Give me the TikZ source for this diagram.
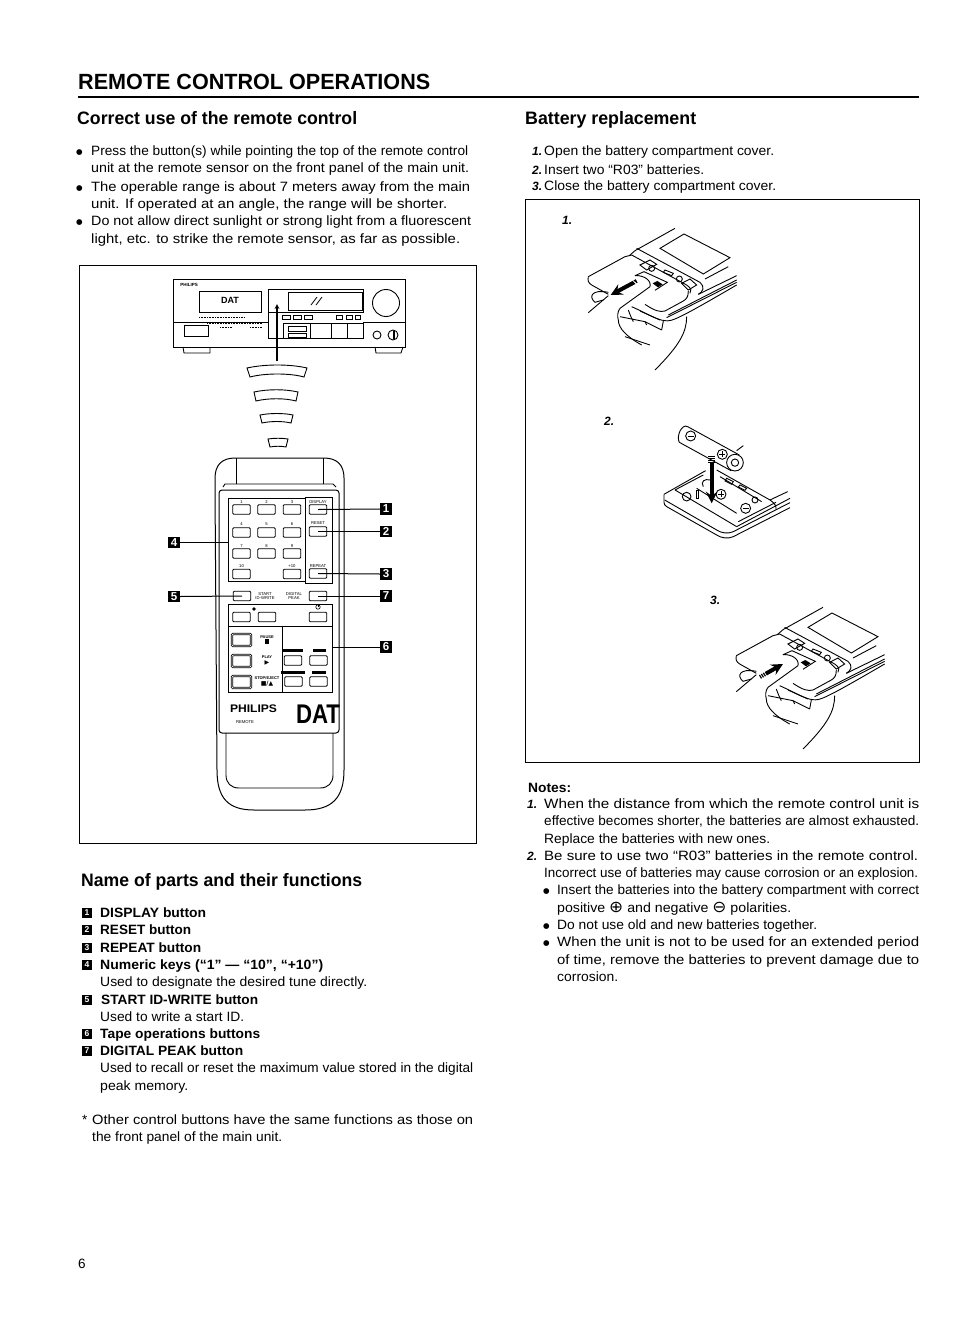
\documentclass[tikz,border=0pt]{standalone}
\usepackage{fontspec}
\usepackage{graphicx}
\setmainfont{Liberation Sans}
\newfontfamily\symfont{DejaVu Sans}
\usetikzlibrary{positioning}
\usetikzlibrary{shapes.geometric, arrows}
\tikzstyle{arrow} = [thick,->,>=stealth]
\tikzstyle{fatarrow} = [line width=4pt,->,>=stealth]
\tikzstyle{body} = [anchor=base west,inner sep=0pt,font=\fontsize{13.5}{16}\selectfont]
\tikzstyle{dot} = [anchor=base west,inner sep=0pt,font=\fontsize{7.5}{8}\symfont]
\tikzstyle{bold} = [body,font=\fontsize{13.5}{16}\selectfont\bfseries]
\tikzstyle{head} = [anchor=base west,inner sep=0pt,font=\fontsize{18}{20}\selectfont\bfseries]
\tikzstyle{numb} = [body,font=\fontsize{12}{16}\selectfont\bfseries\itshape]
\tikzstyle{frame} = [draw,line width=1pt,minimum height=0pt]
\tikzstyle{ink} = [line width=.9pt]
\tikzstyle{btn} = [draw,line width=.8pt,rounded corners=1pt,minimum width=17.5pt,minimum height=9.5pt,inner sep=0pt]
\tikzstyle{bigbtn} = [btn,double,double distance=.7pt,minimum width=19pt,minimum height=12pt]
\tikzstyle{tag} = [fill=black,text=white,inner sep=0pt,minimum size=11.5pt,font=\fontsize{11.5}{11}\selectfont\bfseries]
\tikzstyle{listtag} = [tag,minimum size=10pt,font=\fontsize{8.5}{9}\selectfont\bfseries]
\tikzstyle{leader} = [line width=1pt]
\tikzstyle{tiny} = [inner sep=0pt,align=center,font=\fontsize{4.2}{4.6}\selectfont]
\tikzstyle{darkbar} = [fill=black,inner sep=0pt,minimum height=3pt]
\newcommand{\fitline}[2]{\resizebox{#1pt}{\height}{#2}}
% remote seen from above, used for cover pictures 1 and 3
\newcommand{\coverbody}{%
  \draw[ink] (285,137) -- (405,70);
  \draw[ink] (360,130) -- (432,87) -- (570,158) -- (490,207) -- cycle;
  \draw[ink] (495,222) -- (565,185);
  \draw[ink] (290,130) -- (480,232) .. controls (495,245) and (490,260) .. (475,268);
  \draw[ink] (268,152) -- (285,137);
  \draw[ink] (275,150) -- (440,240) .. controls (455,250) and (455,258) .. (450,265);
  \draw[ink] (475,268) -- (590,212);
  \draw[ink] (385,330) -- (590,225);
  \draw[ink] (380,338) -- (590,232);
  \draw[ink] (145,215) -- (255,155) -- (275,150);
  \draw[ink] (145,215) .. controls (142,228) and (146,234) .. (155,240) -- (205,268);
  \draw[ink] (445,258) .. controls (445,275) and (440,282) .. (430,288) -- (375,318) .. controls (360,322) and (345,318) .. (315,298);
  \draw[ink] (285,212) -- (312,200) -- (382,232) -- (345,256);
  \fill (338,235) -- (352,228) -- (368,238) -- (354,247) -- cycle;
  \draw[ink] (300,180) -- (330,165) -- (350,178) -- (320,195) -- cycle;
  \draw[ink] (335,190) circle [radius=9];
  \draw[ink] (375,195) -- (400,205) -- (395,212) -- (370,202) -- cycle;
  \draw[ink] (418,222) circle [radius=9];
  \draw[ink] (425,235) -- (450,222) -- (470,240) -- (445,255) -- cycle;
  \draw[ink] (285,212) .. controls (310,210) and (335,225) .. (330,245) -- (240,310);
  \draw[ink] (205,262) .. controls (155,252) and (145,275) .. (165,292) -- (190,285);
  \draw[ink] (145,323) -- (205,272);
  \draw[ink] (275,305) .. controls (320,325) and (350,345) .. (375,347) .. controls (395,350) and (410,345) .. (590,240);
  \draw[ink] (300,318) -- (360,345);
  \draw[ink] (240,310) .. controls (232,320) and (232,335) .. (235,345) .. controls (235,370) and (260,395) .. (305,420);
  \draw[ink] (255,395) -- (330,420);
  \draw[ink] (440,335) .. controls (440,380) and (420,420) .. (345,495);
  \draw[ink] (265,315) .. controls (270,330) and (275,340) .. (280,350);
  \draw[ink] (240,335) -- (315,350) -- (320,360);
  \draw[ink] (315,350) -- (365,375);
  \draw[ink] (370,348) -- (365,375);
}
\begin{document}
\begin{tikzpicture}[x=1pt,y=-1pt]
	\useasboundingbox (0,0) rectangle (954,1331);
	%Titles
	\node[anchor=base west,inner sep=0pt,font=\fontsize{22}{24}\selectfont\bfseries] (pagetitle) at (78,89) {\fitline{352}{REMOTE CONTROL OPERATIONS}};
	\coordinate (ruleL) at (78,97);
	\coordinate (ruleR) at (919,97);
	\draw[line width=2pt] (ruleL) -- (ruleR);
	\node[head] (correcthead) at (77,124) {\fitline{280}{Correct use of the remote control}};
	\node[head] (batteryhead) at (525,124) {\fitline{171}{Battery replacement}};
	\node[head] (namehead) at (81,886) {\fitline{281}{Name of parts and their functions}};

	%Left column text
	\node[dot] (b1) at (76,154) {●};
	\node[body] (t1) at (91,155) {\fitline{377}{Press the button(s) while pointing the top of the remote control}};
	\node[body] (t2) at (91,172) {\fitline{378}{unit at the remote sensor on the front panel of the main unit.}};
	\node[dot] (b2) at (76,190) {●};
	\node[body] (t3) at (91,191) {\fitline{379}{The operable range is about 7 meters away from the main}};
	\node[body] (t4) at (91,208) {\fitline{356}{unit. If operated at an angle, the range will be shorter.}};
	\node[dot] (b3) at (76,224) {●};
	\node[body] (t5) at (91,225) {\fitline{380}{Do not allow direct sunlight or strong light from a fluorescent}};
	\node[body] (t6) at (91,243) {\fitline{369}{light, etc. to strike the remote sensor, as far as possible.}};

	%Right column text
	\node[numb] (n1) at (532,155) {1.};
	\node[body] (r1) at (544,155) {\fitline{230}{Open the battery compartment cover.}};
	\node[numb] (n2) at (532,174) {2.};
	\node[body] (r2) at (544,174) {\fitline{160}{Insert two “R03” batteries.}};
	\node[numb] (n3) at (532,190) {3.};
	\node[body] (r3) at (544,190) {\fitline{232}{Close the battery compartment cover.}};

	%Boxes
	\node[frame,anchor=north west,minimum width=397pt,minimum height=578pt] (leftbox) at (79,265) {};
	\node[frame,anchor=north west,minimum width=394pt,minimum height=563pt] (rightbox) at (525,199) {};

	%Main unit
	\draw[ink] (173,279) rectangle (405,347);
	\draw[ink] (173,322) -- (268,322);
	\draw[ink] (363,322) -- (405,322);
	\draw[ink] (199,291) rectangle (261,312);
	\draw[ink] (268,289) rectangle (363,312);
	\draw[ink] (288,292) rectangle (362,310);
	\draw[ink] (268,312) -- (268,338) -- (283,338);
	\draw[ink] (386,303) circle [radius=13.5];
	\draw[ink] (183,347) -- (184,353) -- (210,353) -- (210,347);
	\draw[ink] (375,347) -- (376,353) -- (401,353) -- (403,347);
	\draw[ink] (184,325) rectangle (208,336);
	\draw[ink] (283,323) rectangle (363,338);
	\draw[ink] (310,323) -- (310,338);
	\draw[ink] (331,323) -- (331,338);
	\draw[ink] (347,323) -- (347,338);
	\draw[ink] (288,326) rectangle (306,331);
	\draw[ink] (288,333) rectangle (306,337);
	\draw[ink] (377,335) circle [radius=4];
	\draw[ink] (393,335) circle [radius=5];
	\fill (393,331) rectangle (394.5,339);
	\draw[ink] (282,315) rectangle (290,319);
	\draw[ink] (293,315) rectangle (301,319);
	\draw[ink] (304,315) rectangle (312,319);
	\draw[ink] (336,315) rectangle (342,319);
	\draw[ink] (346,315) rectangle (352,319);
	\draw[ink] (355,315) rectangle (360,319);
	\draw[line width=.6pt,densely dotted] (199,317) -- (245,317);
	\draw[line width=.6pt,densely dotted] (207,323) -- (262,323);
	\draw[line width=.6pt,densely dotted] (220,327) -- (232,327);
	\draw[line width=.6pt,densely dotted] (250,327) -- (262,327);
	\draw[line width=.8pt] (311,305) -- (317,297);
	\draw[line width=.8pt] (316,305) -- (322,297);
	\node[tiny,font=\fontsize{4.5}{5}\selectfont\bfseries] (unitbrand) at (189,285) {PHILIPS};
	\node[inner sep=0pt,font=\fontsize{9}{9}\selectfont\bfseries] (unitdat) at (230,300) {DAT};
	\coordinate (sensor) at (277,304);
	\coordinate (beam) at (277,361);
	\draw[arrow,line width=1.2pt] (beam) -- (sensor);

	%Signal waves
	\draw[ink] (247,368) .. controls (265,364) and (290,364) .. (307,368) -- (304,377) .. controls (290,373) and (265,373) .. (250,377) -- cycle;
	\draw[ink] (254,392) .. controls (268,389) and (285,389) .. (298,392) -- (296,401) .. controls (285,398) and (268,398) .. (256,401) -- cycle;
	\draw[ink] (260,415) .. controls (270,413) and (284,413) .. (293,415) -- (291,423) .. controls (283,421) and (271,421) .. (262,423) -- cycle;
	\draw[ink] (268,439) .. controls (274,438) and (282,438) .. (288,439) -- (286,447) .. controls (281,446) and (275,446) .. (270,447) -- cycle;

	%Remote control
	\draw[line width=1pt] (215,490) -- (215,478) .. controls (215,465) and (222,458) .. (235,458) -- (324,458) .. controls (337,458) and (344,465) .. (344,478) -- (344,770) .. controls (344,798) and (332,810) .. (305,810) -- (254,810) .. controls (228,810) and (217,798) .. (217,770) -- cycle;
	\draw[ink] (236,458) -- (236,484);
	\draw[ink] (323,458) -- (323,484);
	\draw[ink] (223,487) -- (225,484) -- (333,484) -- (336,487);
	\draw[line width=1pt,rounded corners=3pt] (219,490) rectangle (339,733);
	\draw[ink] (226,733) -- (226,775) .. controls (226,783) and (231,788) .. (239,788) -- (320,788) .. controls (328,788) and (333,783) .. (333,775) -- (333,733);
	\node[draw,line width=1.2pt,anchor=north west,minimum width=77pt,minimum height=83pt,inner sep=0pt] (keypad) at (228,498) {};
	\node[draw,line width=.6pt,anchor=north west,minimum width=27pt,minimum height=86pt,inner sep=0pt] (sidepanel) at (305,497) {};
	\node[btn] (key1) at (241.5,509.5) {};
	\node[btn] (key2) at (266.5,509.5) {};
	\node[btn] (key3) at (292,509.5) {};
	\node[btn] (key4) at (241.5,532.5) {};
	\node[btn] (key5) at (266.5,532.5) {};
	\node[btn] (key6) at (292,532.5) {};
	\node[btn] (key7) at (241.5,553.5) {};
	\node[btn] (key8) at (266.5,553.5) {};
	\node[btn] (key9) at (292,553.5) {};
	\node[btn] (key10) at (241.5,574) {};
	\node[btn] (keyplus) at (292,574) {};
	\node[tiny] at (241.5,502) {1};
	\node[tiny] at (266.5,502) {2};
	\node[tiny] at (292,502) {3};
	\node[tiny] at (241.5,524) {4};
	\node[tiny] at (266.5,524) {5};
	\node[tiny] at (292,524) {6};
	\node[tiny] at (241.5,546) {7};
	\node[tiny] at (266.5,546) {8};
	\node[tiny] at (292,546) {9};
	\node[tiny] at (241.5,566) {10};
	\node[tiny] at (292,566) {+10};
	\node[btn] (btndisplay) at (318,509.5) {};
	\node[btn] (btnreset) at (318,531.5) {};
	\node[btn] (btnrepeat) at (318,573.5) {};
	\node[tiny] (lbldisplay) at (318,502) {DISPLAY};
	\node[tiny] (lblreset) at (318,523) {RESET};
	\node[tiny] (lblrepeat) at (318,566) {REPEAT};
	\node[btn] (btnstart) at (242,596) {};
	\node[btn] (btnpeak) at (318,596) {};
	\node[tiny] (lblstart) at (265,596) {START\\ID-WRITE};
	\node[tiny] (lblpeak) at (294,596) {DIGITAL\\PEAK};
	\node[draw,line width=1.2pt,anchor=north west,minimum width=104pt,minimum height=88pt,inner sep=0pt] (tapepanel) at (228,604) {};
	\draw[line width=1pt] (tapepanel.west |- 0,626) -- (tapepanel.east |- 0,626);
	\draw[ink] (282,626) -- (282,692);
	\node[btn] (btnrec) at (241.5,617) {};
	\node[btn] (btnrecb) at (267,617) {};
	\node[btn] (btnpower) at (318,617) {};
	\fill (254,609) circle [radius=1.8];
	% power mark
	\draw[line width=.6pt] (318,607) circle [radius=2.2];
	\draw[line width=.6pt] (318,604) -- (318,607);
	\node[bigbtn] (btnpause) at (241.5,640) {};
	\node[bigbtn] (btnplay) at (241.5,661) {};
	\node[bigbtn] (btnstop) at (241.5,682) {};
	\node[tiny,font=\fontsize{4}{5}\selectfont\bfseries] (lblpause) at (267,640) {PAUSE\\\rule{1.2pt}{5pt}\,\rule{1.2pt}{5pt}};
	\node[tiny,font=\fontsize{4}{6}\selectfont\bfseries] (lblplay) at (267,660) {PLAY\\{\fontsize{6}{6}\symfont ▶}};
	\node[tiny,font=\fontsize{4}{6}\selectfont\bfseries] (lblstop) at (267,681) {STOP/EJECT\\{\fontsize{6}{6}\symfont ■/▲}};
	\node[btn] (btnff) at (293,660.5) {};
	\node[btn] (btnrew) at (318.5,660.5) {};
	\node[btn] (btnfb) at (293.5,681.5) {};
	\node[btn] (btnfc) at (318.5,681.5) {};
	\node[darkbar,minimum width=20pt] at (293,650) {};
	\node[darkbar,minimum width=13pt] at (319,650) {};
	\node[darkbar,minimum width=24pt] at (293,672) {};
	\node[darkbar,minimum width=14pt] at (319,672) {};
	\node[inner sep=0pt,font=\fontsize{11}{11}\selectfont\bfseries] (brand) at (253.5,709) {\fitline{47}{PHILIPS}};
	\node[tiny] (brandsub) at (245,722) {REMOTE};
	\node[inner sep=0pt,font=\fontsize{27}{27}\selectfont\bfseries] (logo) at (318,714) {\fitline{44}{DAT}};

	%Tags on the remote
	\node[tag] (tag1) at (386,509) {1};
	\node[tag] (tag2) at (386,531.5) {2};
	\node[tag] (tag3) at (386,574) {3};
	\node[tag] (tag7) at (386,596) {7};
	\node[tag] (tag6) at (386,647) {6};
	\node[tag] (tag4) at (174,542.5) {4};
	\node[tag] (tag5) at (174,596.5) {5};

	%Lines
	\draw[leader] (btndisplay.center) -- (tag1.west);
	\draw[leader] (btnreset.center) -- (tag2.west);
	\draw[leader] (btnrepeat.center) -- (tag3.west);
	\draw[leader] (btnpeak.center) -- (tag7.west);
	\draw[leader] (tapepanel.east |- tag6) -- (tag6.west);
	\draw[leader] (tag4.east) -- (keypad.west |- tag4);
	\draw[leader] (tag5.east) -- (btnstart.center);

	%Parts list
	\node[listtag] (li1) at (87,913) {1};
	\node[bold] (p1) at (100,917) {\fitline{106}{DISPLAY button}};
	\node[listtag] (li2) at (87,930) {2};
	\node[bold] (p2) at (100,934) {\fitline{91}{RESET button}};
	\node[listtag] (li3) at (87,948) {3};
	\node[bold] (p3) at (100,952) {\fitline{101}{REPEAT button}};
	\node[listtag] (li4) at (87,965) {4};
	\node[bold] (p4) at (100,969) {\fitline{223}{Numeric keys (“1” — “10”, “+10”)}};
	\node[body] (p4a) at (100,986) {\fitline{267}{Used to designate the desired tune directly.}};
	\node[listtag] (li5) at (87,1000) {5};
	\node[bold] (p5) at (101,1004) {\fitline{157}{START ID-WRITE button}};
	\node[body] (p5a) at (100,1021) {\fitline{144}{Used to write a start ID.}};
	\node[listtag] (li6) at (87,1034) {6};
	\node[bold] (p6) at (100,1038) {\fitline{160}{Tape operations buttons}};
	\node[listtag] (li7) at (87,1051) {7};
	\node[bold] (p7) at (100,1055) {\fitline{143}{DIGITAL PEAK button}};
	\node[body] (p7a) at (100,1072) {\fitline{373}{Used to recall or reset the maximum value stored in the digital}};
	\node[body] (p7b) at (100,1090) {\fitline{88}{peak memory.}};
	\node[body] (star) at (82,1124) {*};
	\node[body] (o1) at (92,1124) {\fitline{381}{Other control buttons have the same functions as those on}};
	\node[body] (o2) at (92,1141) {\fitline{190}{the front panel of the main unit.}};
	\node[body] (pageno) at (78,1268) {6};

	%Notes
	\node[bold] (notes) at (528,792) {\fitline{43}{Notes:}};
	\node[numb] (k1) at (527,808) {1.};
	\node[body] (q1) at (544,808) {\fitline{375}{When the distance from which the remote control unit is}};
	\node[body] (q2) at (544,825) {\fitline{375}{effective becomes shorter, the batteries are almost exhausted.}};
	\node[body] (q3) at (544,843) {\fitline{226}{Replace the batteries with new ones.}};
	\node[numb] (k2) at (527,860) {2.};
	\node[body] (q4) at (544,860) {\fitline{374}{Be sure to use two “R03” batteries in the remote control.}};
	\node[body] (q5) at (544,877) {\fitline{374}{Incorrect use of batteries may cause corrosion or an explosion.}};
	\node[dot] (c1) at (543,893) {●};
	\node[body] (q6) at (557,894) {\fitline{362}{Insert the batteries into the battery compartment with correct}};
	\node[body] (q7) at (557,912) {\fitline{234}{positive {\fontsize{16}{16}\symfont ⊕} and negative {\fontsize{16}{16}\symfont ⊖} polarities.}};
	\node[dot] (c2) at (543,928) {●};
	\node[body] (q8) at (557,929) {\fitline{260}{Do not use old and new batteries together.}};
	\node[dot] (c3) at (543,945) {●};
	\node[body] (q9) at (557,946) {\fitline{362}{When the unit is not to be used for an extended period}};
	\node[body] (q10) at (557,964) {\fitline{362}{of time, remove the batteries to prevent damage due to}};
	\node[body] (q11) at (557,981) {\fitline{61}{corrosion.}};

	%Battery pictures
	\node[numb] (s1) at (562,224) {1.};
	\node[numb] (s2) at (604,425) {2.};
	\node[numb] (s3) at (710,604) {3.};
	\begin{scope}[shift={(540,205)},scale=0.3333]
		\coverbody
		\draw[fatarrow] (290,228) -- (212,270);
		\foreach \k in {0,6,12} \draw[white,line width=.7pt] (278+\k,226+\k*.9) -- (292+\k,240+\k*.9);
		% battery
		\draw[ink] (443,665) -- (598,750);
		\draw[ink] (418,712) -- (573,797);
		\draw[ink] (443,665) .. controls (425,655) and (408,695) .. (418,712);
		\draw[ink,fill=white] (585,773) circle [radius=25];
		\draw[ink] (585,773) circle [radius=11];
		\draw[ink] (452,693) circle [radius=15];
		\draw[ink] (443,693) -- (461,693);
		\draw[ink] (547,748) circle [radius=15];
		\draw[ink] (538,748) -- (556,748);
		\draw[ink] (547,739) -- (547,757);
		\draw[ink] (590,737) -- (610,722);
		% tray
		\draw[ink] (372,868) -- (497,797);
		\draw[ink] (405,855) -- (490,810);
		\draw[ink] (405,855) -- (590,965);
		\draw[ink] (530,795) -- (690,885) .. controls (705,895) and (710,905) .. (708,915);
		\draw[ink] (372,868) -- (372,892) .. controls (372,898) and (375,902) .. (380,905) -- (530,990) .. controls (545,1000) and (565,1002) .. (580,995) -- (750,908);
		\draw[ink] (374,885) -- (530,975) .. controls (545,985) and (565,987) .. (580,980) -- (750,893);
		\draw[ink] (590,965) -- (750,880);
		\draw[ink] (595,950) -- (708,892);
		\draw[ink] (690,885) -- (743,860);
		\draw[ink] (470,850) -- (590,925);
		\draw[ink] (540,815) -- (665,890);
		\draw[ink] (440,875) circle [radius=13];
		\draw[ink] (468,855) rectangle (476,880);
		\draw[ink] (490,845) .. controls (480,830) and (495,820) .. (510,825);
		\draw[ink] (560,820) -- (580,830) -- (575,838) -- (555,828) -- cycle;
		\draw[ink] (600,840) -- (620,850) -- (615,856) -- (595,846) -- cycle;
		\draw[ink] (645,885) circle [radius=9];
		\draw[ink] (543,868) circle [radius=15];
		\draw[ink] (534,868) -- (552,868);
		\draw[ink] (543,859) -- (543,877);
		\draw[ink] (617,910) circle [radius=15];
		\draw[ink] (608,910) -- (626,910);
		\draw[fatarrow] (515,775) -- (515,895);
		\foreach \k in {0,6,12,18} \draw[line width=.7pt] (505,755+\k) -- (525,755+\k);
	\end{scope}
	\begin{scope}[shift={(688,584)},scale=0.3333]
		\coverbody
		\draw[fatarrow] (216,279) -- (285,240);
		\foreach \k in {0,6,12} \draw[white,line width=.7pt] (215+\k,268-\k*.5) -- (229+\k,290-\k*.5);
	\end{scope}
\end{tikzpicture}
\end{document}
